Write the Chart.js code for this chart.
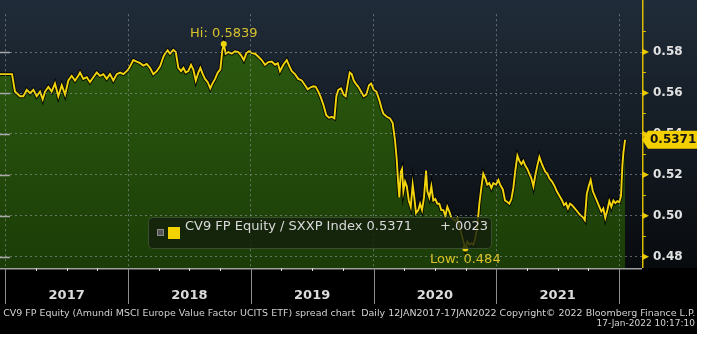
<!DOCTYPE html>
<html>
<head>
<meta charset="utf-8">
<script src="https://cdn.jsdelivr.net/npm/chart.js@4.4.0/dist/chart.umd.min.js"></script>
<style>
  html, body { margin: 0; padding: 0; background: #fff; }
  #wrap { position: relative; width: 697px; height: 334px; background: #000; overflow: hidden; }
  #chart { position: absolute; left: 0; top: 0; }
  #legend { position: absolute; left: 148px; top: 217px; width: 344px; height: 32px; box-sizing: border-box;
            background: rgba(20, 32, 14, 0.82); border: 1px solid rgba(72, 92, 60, 0.75); border-radius: 5px; }
  #legend .chk { position: absolute; left: 8px; top: 11px; width: 5px; height: 5px; background: #555; border: 1px solid #8a8a8a; }
  #legend .sw { position: absolute; left: 19px; top: 9px; width: 12px; height: 12px; background: #f2d200; }
  #legend .txt { position: absolute; top: 0; line-height: 30px; font: 13px "DejaVu Sans"; color: #dadada; white-space: pre; }
  .foot { position: absolute; right: 2px; font: 9px "DejaVu Sans"; line-height: 10px; color: #d2d2d2;
          white-space: pre; transform-origin: right center; }
</style>
</head>
<body>
<div id="wrap">
  <canvas id="chart" width="697" height="334"></canvas>
  <div id="legend">
    <span class="chk"></span><span class="sw"></span>
    <span class="txt" id="lgName" style="left:36px"></span>
    <span class="txt" id="lgChg" style="left:291px"></span>
  </div>
  <div class="foot" id="foot1" style="top:308px">CV9 FP Equity (Amundi MSCI Europe Value Factor UCITS ETF) spread chart  Daily 12JAN2017-17JAN2022 Copyright© 2022 Bloomberg Finance L.P.</div>
  <div class="foot" id="foot2" style="top:318px">17-Jan-2022 10:17:10</div>
</div>
<script>
// CV9 FP / SXXP ratio, dates as decimal years
const dates = [
  2016.957, 2017.055, 2017.079, 2017.120, 2017.147, 2017.175, 2017.202, 2017.229, 2017.256, 2017.283,
  2017.305, 2017.324, 2017.351, 2017.378, 2017.405, 2017.432, 2017.460, 2017.487, 2017.514, 2017.541,
  2017.568, 2017.595, 2017.609, 2017.636, 2017.664, 2017.690, 2017.717, 2017.745, 2017.772, 2017.799,
  2017.826, 2017.853, 2017.880, 2017.908, 2017.935, 2017.962, 2017.989,
  2018.002, 2018.030, 2018.043, 2018.071, 2018.098, 2018.125, 2018.152, 2018.179, 2018.206, 2018.234,
  2018.261, 2018.288, 2018.301, 2018.323, 2018.342, 2018.369, 2018.389, 2018.410, 2018.432, 2018.451,
  2018.470, 2018.491, 2018.513, 2018.532, 2018.552, 2018.573, 2018.589, 2018.609, 2018.627, 2018.649,
  2018.670, 2018.687, 2018.709, 2018.731, 2018.752, 2018.768, 2018.780, 2018.796, 2018.817, 2018.845,
  2018.872, 2018.899, 2018.921, 2018.943, 2018.964, 2018.986,
  2019.008, 2019.035, 2019.062, 2019.089, 2019.116, 2019.143, 2019.171, 2019.198, 2019.220, 2019.238,
  2019.265, 2019.293, 2019.314, 2019.334, 2019.360, 2019.387, 2019.415, 2019.442, 2019.464, 2019.485,
  2019.510, 2019.529, 2019.550, 2019.572, 2019.594, 2019.615, 2019.637, 2019.659, 2019.681, 2019.697,
  2019.713, 2019.735, 2019.757, 2019.773, 2019.790, 2019.806, 2019.822, 2019.839, 2019.855, 2019.876,
  2019.898, 2019.920, 2019.941, 2019.963, 2019.980,
  2020.002, 2020.023, 2020.045, 2020.067, 2020.080, 2020.108, 2020.134, 2020.156, 2020.175, 2020.189,
  2020.200, 2020.210, 2020.222, 2020.232, 2020.243, 2020.257, 2020.271, 2020.287, 2020.303, 2020.319,
  2020.332, 2020.346, 2020.365, 2020.379, 2020.395, 2020.411, 2020.428, 2020.438, 2020.455, 2020.471,
  2020.487, 2020.503, 2020.520, 2020.536, 2020.552, 2020.569, 2020.585, 2020.601, 2020.617, 2020.634,
  2020.650, 2020.666, 2020.683, 2020.699, 2020.715, 2020.732, 2020.748, 2020.764, 2020.780, 2020.797,
  2020.813, 2020.829, 2020.846, 2020.862, 2020.878, 2020.894, 2020.911, 2020.927, 2020.943, 2020.960,
  2020.976, 2020.998,
  2021.017, 2021.031, 2021.053, 2021.071, 2021.090, 2021.106, 2021.123, 2021.139, 2021.155, 2021.172,
  2021.188, 2021.204, 2021.220, 2021.237, 2021.253, 2021.269, 2021.286, 2021.302, 2021.318, 2021.334,
  2021.351, 2021.367, 2021.383, 2021.400, 2021.416, 2021.432, 2021.454, 2021.476, 2021.492, 2021.514,
  2021.536, 2021.552, 2021.568, 2021.584, 2021.601, 2021.617, 2021.639, 2021.660, 2021.682, 2021.704,
  2021.721, 2021.737, 2021.753, 2021.769, 2021.786, 2021.802, 2021.818, 2021.840, 2021.856, 2021.872,
  2021.888, 2021.905, 2021.921, 2021.937, 2021.954, 2021.970, 2021.986,
  2022.002, 2022.016, 2022.027, 2022.035, 2022.049
];
const ratio = [
  0.5692, 0.5692, 0.5607, 0.5584, 0.5584, 0.5615, 0.5599, 0.5615, 0.5584, 0.5607,
  0.5569, 0.5607, 0.5630, 0.5607, 0.5646, 0.5584, 0.5638, 0.5592, 0.5661, 0.5684,
  0.5661, 0.5684, 0.5700, 0.5669, 0.5677, 0.5653, 0.5677, 0.5700, 0.5684, 0.5692,
  0.5669, 0.5692, 0.5661, 0.5692, 0.5700, 0.5692, 0.5707,
  0.5715, 0.5746, 0.5761, 0.5753, 0.5746, 0.5734, 0.5742, 0.5723, 0.5692, 0.5707,
  0.5730, 0.5777, 0.5792, 0.5808, 0.5792, 0.5811, 0.5800, 0.5723, 0.5707, 0.5723,
  0.5700, 0.5707, 0.5738, 0.5715, 0.5661, 0.5700, 0.5723, 0.5692, 0.5669, 0.5653,
  0.5623, 0.5646, 0.5669, 0.5700, 0.5715, 0.5808, 0.5839, 0.5792, 0.5800, 0.5792,
  0.5804, 0.5800, 0.5784, 0.5761, 0.5795, 0.5804,
  0.5795, 0.5792, 0.5777, 0.5761, 0.5738, 0.5751, 0.5754, 0.5738, 0.5746, 0.5707,
  0.5738, 0.5761, 0.5731, 0.5707, 0.5692, 0.5669, 0.5661, 0.5638, 0.5618, 0.5627,
  0.5633, 0.5630, 0.5607, 0.5576, 0.5538, 0.5491, 0.5479, 0.5484, 0.5476, 0.5584,
  0.5615, 0.5623, 0.5592, 0.5584, 0.5646, 0.5700, 0.5692, 0.5661, 0.5646, 0.5630,
  0.5607, 0.5584, 0.5592, 0.5638, 0.5646,
  0.5615, 0.5607, 0.5569, 0.5522, 0.5499, 0.5484, 0.5476, 0.5453, 0.5368, 0.5275,
  0.5167, 0.5090, 0.5214, 0.5229, 0.5121, 0.5167, 0.5144, 0.5075, 0.5044, 0.5152,
  0.5090, 0.5013, 0.5028, 0.5059, 0.5028, 0.5090, 0.5221, 0.5121, 0.5090, 0.5144,
  0.5075, 0.5082, 0.5059, 0.5059, 0.5028, 0.5028, 0.4998, 0.5044, 0.5021, 0.4990,
  0.4982, 0.4974, 0.4990, 0.4951, 0.4913, 0.4874, 0.4840, 0.4874, 0.4859, 0.4866,
  0.4859, 0.4889, 0.4951, 0.5059, 0.5136, 0.5206, 0.5183, 0.5152, 0.5160, 0.5136,
  0.5160, 0.5152,
  0.5175, 0.5152, 0.5129, 0.5075, 0.5067, 0.5059, 0.5082, 0.5136, 0.5221, 0.5294,
  0.5268, 0.5252, 0.5268, 0.5244, 0.5229, 0.5206, 0.5183, 0.5144, 0.5198, 0.5244,
  0.5288, 0.5260, 0.5237, 0.5214, 0.5206, 0.5183, 0.5167, 0.5144, 0.5121, 0.5098,
  0.5075, 0.5052, 0.5062, 0.5036, 0.5059, 0.5052, 0.5036, 0.5021, 0.5005, 0.4994,
  0.4979, 0.5106, 0.5144, 0.5175, 0.5121, 0.5098, 0.5075, 0.5044, 0.5021, 0.5036,
  0.4990, 0.5028, 0.5072, 0.5044, 0.5075, 0.5062, 0.5072,
  0.5067, 0.5098, 0.5244, 0.5306, 0.5371
];

const years = [2017, 2018, 2019, 2020, 2021];
const yTicks = [0.48, 0.49, 0.50, 0.51, 0.52, 0.53, 0.54, 0.55, 0.56, 0.57, 0.58, 0.59];
const seriesName = "CV9 FP Equity / SXXP Index";
const dayChange = 0.0023;

const yMin = 0.4745, yMax = 0.5985;
const xMin = 2016.957, xMax = 2022.187;

// quarterly ticks, year labels sit on the mid-year one
const xTicks = [];
years.forEach(yr => [0, 0.25, 0.5, 0.75].forEach(q => xTicks.push(yr + q)));
xTicks.push(years[years.length - 1] + 1);

const isMajorY = v => Math.round(v * 100) % 2 === 0;
const fmt = v => String(Number(v.toFixed(4)));

const YELLOW = "#f2d40c";
const lastV = ratio[ratio.length - 1];

document.getElementById("lgName").textContent = seriesName + " " + lastV.toFixed(4);
document.getElementById("lgChg").textContent = (dayChange >= 0 ? "+" : "-") + Math.abs(dayChange).toFixed(4).replace(/^0/, "");

// squeeze the long footer line into the frame width
const foot1 = document.getElementById("foot1");
foot1.style.transform = "scaleX(" + (692 / foot1.getBoundingClientRect().width) + ")";

const points = dates.map((t, i) => ({ x: t, y: ratio[i] }));

const bloombergLook = {
  id: "bloombergLook",
  beforeDraw(chart) {
    const { ctx, chartArea: a, width } = chart;
    const g = ctx.createLinearGradient(0, 0, 0, a.bottom);
    g.addColorStop(0, "#202c39");
    g.addColorStop(1, "#080b0e");
    ctx.save();
    ctx.fillStyle = g;
    ctx.fillRect(0, 0, width, a.bottom);
    ctx.restore();
  },
  afterDraw(chart) {
    const { ctx, chartArea: a, scales: { x, y } } = chart;
    ctx.save();

    // bottom axis line
    ctx.strokeStyle = "#a0a0a0";
    ctx.lineWidth = 1.5;
    ctx.beginPath();
    ctx.moveTo(0, a.bottom + 0.75);
    ctx.lineTo(a.right, a.bottom + 0.75);
    ctx.stroke();

    // quarter ticks and year separators
    xTicks.forEach(v => {
      const px = Math.round(x.getPixelForValue(v)) + 0.5;
      ctx.beginPath();
      if (Number.isInteger(v)) {
        ctx.strokeStyle = "#8c8c8c";
        ctx.lineWidth = 1;
        ctx.moveTo(px, a.bottom);
        ctx.lineTo(px, a.bottom + 36);
      } else {
        ctx.strokeStyle = "#dddddd";
        ctx.lineWidth = 1;
        ctx.moveTo(px, a.bottom);
        ctx.lineTo(px, a.bottom + 3);
      }
      ctx.stroke();
    });

    // short solid marks on the left edge
    ctx.strokeStyle = "#a8a8a8";
    ctx.lineWidth = 1.5;
    yTicks.filter(isMajorY).forEach(v => {
      const py = Math.round(y.getPixelForValue(v)) + 0.5;
      ctx.beginPath();
      ctx.moveTo(0, py);
      ctx.lineTo(10, py);
      ctx.stroke();
    });

    // right axis spine with arrow marks
    ctx.strokeStyle = "#d9bc00";
    ctx.lineWidth = 1.5;
    ctx.beginPath();
    ctx.moveTo(a.right + 0.75, 0);
    ctx.lineTo(a.right + 0.75, a.bottom);
    ctx.stroke();
    ctx.fillStyle = "#e8c800";
    yTicks.filter(isMajorY).forEach(v => {
      const py = y.getPixelForValue(v);
      ctx.beginPath();
      ctx.moveTo(a.right, py - 3.5);
      ctx.lineTo(a.right + 7, py);
      ctx.lineTo(a.right, py + 3.5);
      ctx.closePath();
      ctx.fill();
    });

    // high / low markers
    const hiI = ratio.indexOf(Math.max(...ratio));
    const loI = ratio.indexOf(Math.min(...ratio));
    ctx.font = "13px 'DejaVu Sans'";
    ctx.textAlign = "center";
    ctx.textBaseline = "middle";
    [[hiI, "Hi: ", -10], [loI, "Low: ", 11]].forEach(([i, tag, dy]) => {
      const px = x.getPixelForValue(dates[i]);
      const py = y.getPixelForValue(ratio[i]);
      ctx.fillStyle = YELLOW;
      ctx.beginPath();
      ctx.arc(px, py, 3, 0, Math.PI * 2);
      ctx.fill();
      ctx.fillStyle = "#d9c12a";
      ctx.fillText(tag + fmt(ratio[i]), px, py + dy);
    });

    // last price tag
    const py = y.getPixelForValue(lastV);
    ctx.fillStyle = "#f3d000";
    ctx.beginPath();
    ctx.moveTo(a.right, py);
    ctx.lineTo(a.right + 6, py - 9);
    ctx.lineTo(chart.width, py - 9);
    ctx.lineTo(chart.width, py + 9);
    ctx.lineTo(a.right + 6, py + 9);
    ctx.closePath();
    ctx.fill();
    ctx.fillStyle = "#151515";
    ctx.font = "bold 12px 'DejaVu Sans'";
    ctx.textAlign = "left";
    ctx.fillText(lastV.toFixed(4), a.right + 8, py + 0.5);

    ctx.restore();
  }
};

Chart.defaults.font.family = "'DejaVu Sans'";

new Chart(document.getElementById("chart"), {
  type: "line",
  data: {
    datasets: [
      {
        // dark outline + green area
        data: points,
        borderColor: "rgba(0,0,0,0.85)",
        borderWidth: 3.8,
        pointRadius: 0,
        tension: 0,
        fill: "start",
        backgroundColor(c) {
          const a = c.chart.chartArea;
          if (!a) return "#244a0c";
          const g = c.chart.ctx.createLinearGradient(0, a.top, 0, a.bottom);
          g.addColorStop(0, "#2e5e10");
          g.addColorStop(1, "#1b3c07");
          return g;
        },
        order: 2
      },
      {
        data: points,
        borderColor: YELLOW,
        borderWidth: 1.9,
        pointRadius: 0,
        tension: 0,
        fill: false,
        order: 1
      }
    ]
  },
  options: {
    responsive: false,
    animation: false,
    layout: { padding: 0 },
    plugins: { legend: { display: false }, tooltip: { enabled: false } },
    scales: {
      x: {
        type: "linear",
        min: xMin,
        max: xMax,
        afterBuildTicks: s => { s.ticks = xTicks.map(v => ({ value: v })); },
        afterFit: s => { s.height = 66; },
        grid: {
          z: 1,
          drawTicks: true,
          tickLength: 20,
          tickColor: "transparent",
          color: c => (c.tick && Number.isInteger(c.tick.value)) ? "rgba(150,155,160,0.6)" : "transparent"
        },
        border: { display: false, dash: [2, 3] },
        ticks: {
          autoSkip: false,
          maxRotation: 0,
          padding: 0,
          color: "#dcdcdc",
          font: { size: 13, weight: "bold" },
          callback: v => (v % 1 === 0.5) ? String(Math.floor(v)) : ""
        }
      },
      y: {
        position: "right",
        min: yMin,
        max: yMax,
        afterBuildTicks: s => { s.ticks = yTicks.map(v => ({ value: v })); },
        afterFit: s => { s.width = 55; },
        grid: {
          z: 1,
          tickLength: 4,
          tickColor: "#d9bc00",
          color: c => (c.tick && isMajorY(c.tick.value)) ? "rgba(150,155,160,0.6)" : "transparent"
        },
        border: { display: false, dash: [2, 3] },
        ticks: {
          padding: 7,
          color: "#e2e2e2",
          font: { size: 12, weight: "bold" },
          callback: v => isMajorY(v) ? v.toFixed(2) : ""
        }
      }
    }
  },
  plugins: [bloombergLook]
});
</script>
</body>
</html>
